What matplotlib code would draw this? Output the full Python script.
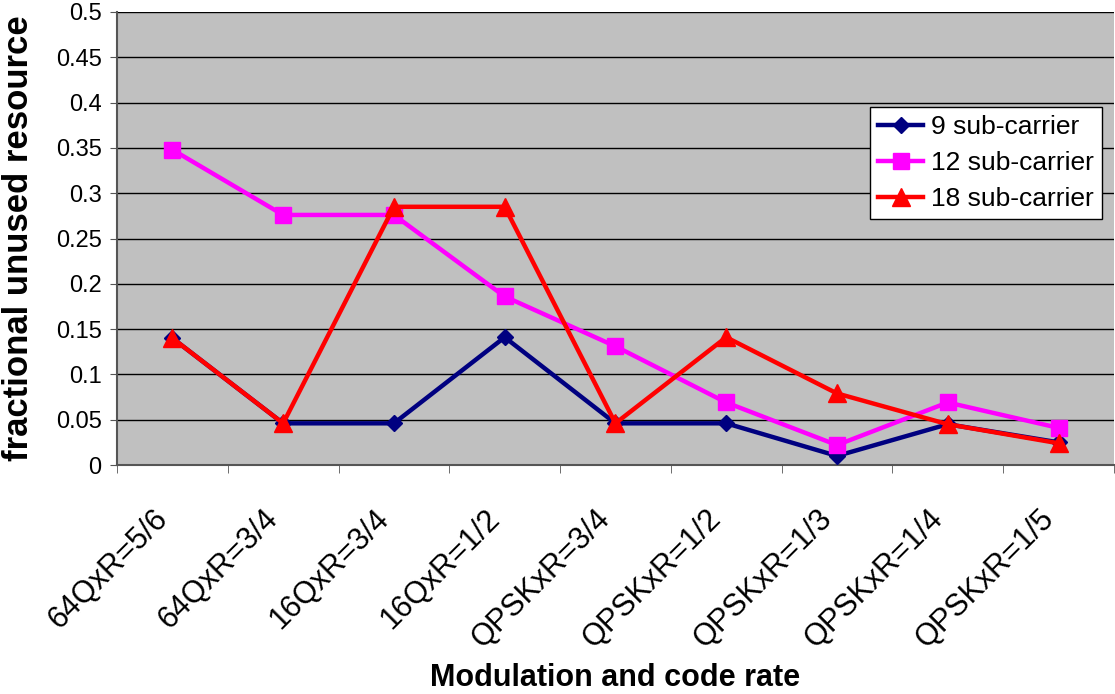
import matplotlib
matplotlib.use("Agg")
import matplotlib.pyplot as plt
import matplotlib.transforms as mtransforms
import numpy as np

plt.rcParams['font.family'] = ['Liberation Sans', 'DejaVu Sans']

categories = ["64QxR=5/6", "64QxR=3/4", "16QxR=3/4", "16QxR=1/2", "QPSKxR=3/4",
              "QPSKxR=1/2", "QPSKxR=1/3", "QPSKxR=1/4", "QPSKxR=1/5"]
sub9 = [0.140, 0.046, 0.046, 0.141, 0.046, 0.046, 0.010, 0.045, 0.025]
sub12 = [0.348, 0.276, 0.276, 0.186, 0.131, 0.069, 0.022, 0.069, 0.041]
sub18 = [0.140, 0.046, 0.285, 0.285, 0.046, 0.141, 0.079, 0.045, 0.024]
series_labels = ["9 sub-carrier", "12 sub-carrier", "18 sub-carrier"]
ytick_labels = ["0", "0.05", "0.1", "0.15", "0.2", "0.25", "0.3", "0.35", "0.4", "0.45", "0.5"]

fig = plt.figure(figsize=(11.15, 6.94), dpi=100)
ax = fig.add_axes([117/1115, (694-465)/694, 1 - 117/1115 - 0.001, (465-12)/694])
ax.set_facecolor('#C0C0C0')

x = np.arange(len(categories))
ax.plot(x, sub9, color='#000080', lw=3.2, marker='D', ms=8, label=series_labels[0], zorder=3)
ax.plot(x, sub12, color='#FF00FF', lw=3.2, marker='s', ms=12, label=series_labels[1], zorder=4)
ax.plot(x, sub18, color='#FF0000', lw=3.2, marker='^', ms=13, label=series_labels[2], zorder=5)

ax.set_xlim(-0.5, len(categories) - 0.5)
ax.set_ylim(0, 0.5)
ax.set_yticks(np.arange(0, 0.51, 0.05))
ax.set_yticklabels(ytick_labels, fontsize=17)
ax.yaxis.grid(True, color='black', lw=1)
ax.set_axisbelow(True)

# category labels (rotated), placed at category positions with a small offset
ax.set_xticks(x)
ax.set_xticklabels([])
ax.tick_params(axis='x', which='major', length=0)
base = mtransforms.blended_transform_factory(ax.transData, ax.transAxes)
offset = mtransforms.ScaledTranslation(-0.20, -0.39, fig.dpi_scale_trans)
for i, c in enumerate(categories):
    ax.text(x[i], 0, c, transform=base + offset, rotation=45, ha='right', va='top',
            rotation_mode='anchor', fontsize=22, clip_on=False)

ax.set_xticks(np.arange(-0.5, len(categories), 1), minor=True)
ax.tick_params(axis='x', which='minor', length=6, color='#555555')
ax.tick_params(axis='y', length=5, color='#555555', pad=6)

for s in ['top', 'right']:
    ax.spines[s].set_visible(False)
ax.spines['left'].set_color('#555555')
ax.spines['bottom'].set_color('#555555')
ax.spines['left'].set_linewidth(1.5)
ax.spines['bottom'].set_linewidth(1.5)

ax.set_ylabel("fractional unused resource", fontsize=25, fontweight='bold')
ax.yaxis.set_label_coords(-0.082, 0.5)
ax.set_xlabel("Modulation and code rate", fontsize=22, fontweight='bold')
ax.xaxis.set_label_coords(0.5, -0.437)

leg = ax.legend(loc='upper right', bbox_to_anchor=(0.988, 0.79), fontsize=19,
                frameon=True, fancybox=False, framealpha=1, edgecolor='black',
                handlelength=1.7, borderpad=0.3, labelspacing=0.45, handletextpad=0.3,
                borderaxespad=0)
leg.get_frame().set_linewidth(1)

fig.savefig("out.png", dpi=100)
